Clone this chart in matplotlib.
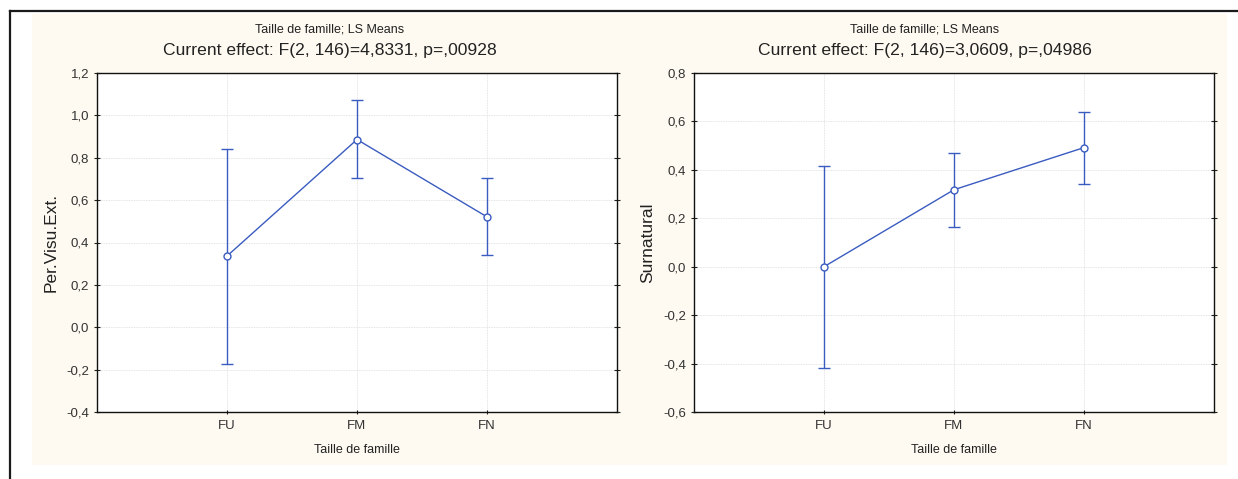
import matplotlib
matplotlib.use("Agg")
import matplotlib.pyplot as plt
from matplotlib.lines import Line2D
from matplotlib.patches import Rectangle

plt.rcParams["font.family"] = ["Liberation Sans", "DejaVu Sans"]

# Données
categories = ["FU", "FM", "FN"]
xlabel = "Taille de famille"
subtitle = "Taille de famille; LS Means"

# Panneau gauche
left_ylabel = "Per.Visu.Ext."
left_title = "Current effect: F(2, 146)=4,8331, p=,00928"
left_mean = [0.336, 0.886, 0.521]
left_low = [-0.174, 0.703, 0.342]
left_high = [0.842, 1.072, 0.703]
left_ticks = [-0.4, -0.2, 0.0, 0.2, 0.4, 0.6, 0.8, 1.0, 1.2]

# Panneau droit
right_ylabel = "Surnatural"
right_title = "Current effect: F(2, 146)=3,0609, p=,04986"
right_mean = [0.0, 0.318, 0.492]
right_low = [-0.42, 0.166, 0.342]
right_high = [0.417, 0.469, 0.641]
right_ticks = [-0.6, -0.4, -0.2, 0.0, 0.2, 0.4, 0.6, 0.8]

W, H = 1238, 479
blue = "#3a5cc0"
cream = "#fefaf1"

fig = plt.figure(figsize=(W / 100, H / 100), dpi=100)
fig.patch.set_facecolor("white")

# fond crème
fig.add_artist(Rectangle((32 / W, 1 - 465 / H), 1195 / W, 451 / H,
                         transform=fig.transFigure, facecolor=cream,
                         edgecolor="none", zorder=-10))
# cadre noir en haut et à gauche
fig.add_artist(Line2D([10 / W, 1], [1 - 11 / H, 1 - 11 / H], color="#1a1a1a", lw=1.6))
fig.add_artist(Line2D([10 / W, 10 / W], [0, 1 - 11 / H], color="#1a1a1a", lw=1.6))


def draw_panel(x0_px, mean, low, high, ticks, ylabel, title, panel_cx):
    ax = fig.add_axes([x0_px / W, 1 - 412 / H, 520 / W, 339 / H])
    ax.set_facecolor("white")
    x = list(range(1, len(categories) + 1))
    yerr = [[m - l for m, l in zip(mean, low)], [h - m for m, h in zip(mean, high)]]
    ax.errorbar(x, mean, yerr=yerr, color=blue, lw=1.0, capsize=4.3,
                capthick=1.0, elinewidth=1.0, marker="o", markersize=5,
                markerfacecolor="white", markeredgecolor=blue, markeredgewidth=1.0,
                zorder=3)
    ax.set_xlim(0, 4)
    ax.set_ylim(ticks[0], ticks[-1])
    ax.set_xticks(x)
    ax.set_xticklabels(categories)
    ax.set_yticks(ticks)
    ax.set_yticklabels([f"{t:.1f}".replace(".", ",") for t in ticks])
    ax.grid(True, color="#dcdcdc", lw=0.6, ls=(0, (1, 1)))
    ax.tick_params(axis="y", direction="inout", length=4, width=0.8, labelsize=9.5,
                   right=True, colors="#222222", labelcolor="#333333")
    ax.tick_params(axis="x", direction="inout", length=3, width=0.8, labelsize=9.5,
                   pad=4, colors="#222222", labelcolor="#333333")
    for s in ax.spines.values():
        s.set_color("#111111")
        s.set_linewidth(1.0)
    ax.set_ylabel(ylabel, fontsize=12.5, labelpad=6, color="#222222")
    ax.set_xlabel(xlabel, fontsize=9, labelpad=9, color="#222222")
    fig.text(panel_cx / W, 1 - 30 / H, subtitle, ha="center", va="center",
             fontsize=9, color="#222222")
    fig.text(panel_cx / W, 1 - 51 / H, title, ha="center", va="center",
             fontsize=12.6, color="#222222")
    return ax


draw_panel(97, left_mean, left_low, left_high, left_ticks, left_ylabel, left_title, 330)
draw_panel(694, right_mean, right_low, right_high, right_ticks, right_ylabel, right_title, 925)

fig.savefig("out.png", dpi=100)
